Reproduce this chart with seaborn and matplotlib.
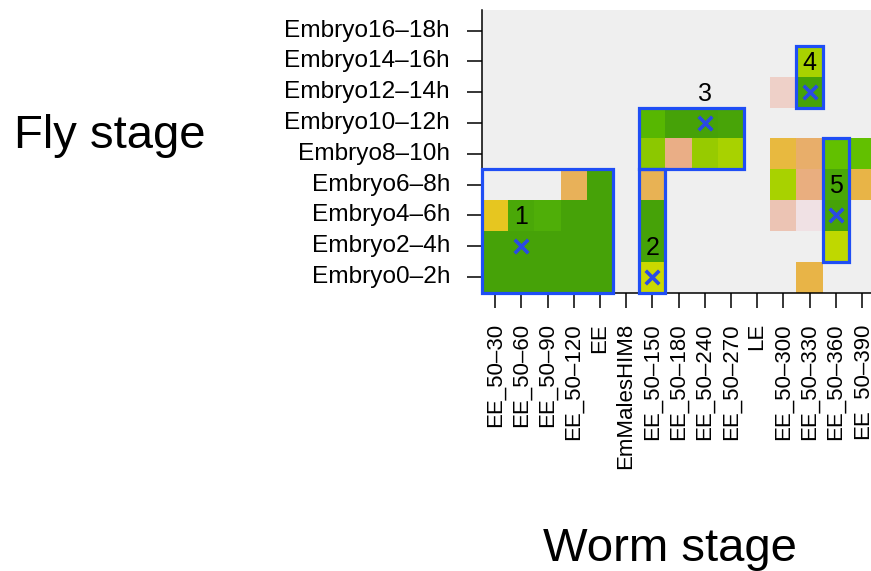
import numpy as np
import pandas as pd
import matplotlib
matplotlib.use("Agg")
import matplotlib.pyplot as plt
from matplotlib.colors import LinearSegmentedColormap
from matplotlib.patches import Rectangle
import seaborn as sns

# ---------------- data ----------------
worm_stages = ["EE_50–30", "EE_50–60", "EE_50–90", "EE_50–120", "EE", "EmMalesHIM8",
               "EE_50–150", "EE_50–180", "EE_50–240", "EE_50–270", "LE",
               "EE_50–300", "EE_50–330", "EE_50–360", "EE_50–390"]
fly_stages = ["Embryo16–18h", "Embryo14–16h", "Embryo12–14h", "Embryo10–12h",
              "Embryo8–10h", "Embryo6–8h", "Embryo4–6h", "Embryo2–4h", "Embryo0–2h"]

N = np.nan
row_16_18 = [N, N, N, N, N, N, N, N, N, N, N, N, N, N, N]
row_14_16 = [N, N, N, N, N, N, N, N, N, N, N, N, 0.78, N, N]
row_12_14 = [N, N, N, N, N, N, N, N, N, N, N, 0.15, 1.0, N, N]
row_10_12 = [N, N, N, N, N, N, 0.93, 1.0, 1.0, 0.99, N, N, N, N, N]
row_8_10 = [N, N, N, N, N, N, 0.85, 0.36, 0.83, 0.78, N, 0.53, 0.44, 0.91, 0.91]
row_6_8 = [N, N, N, 0.47, 1.0, N, 0.48, N, N, N, N, 0.78, 0.38, 0.98, 0.50]
row_4_6 = [0.60, 0.98, 0.96, 1.0, 1.0, N, 1.0, N, N, N, N, 0.24, 0.02, 1.0, N]
row_2_4 = [1.0, 1.0, 1.0, 1.0, 1.0, N, 1.0, N, N, N, N, N, N, 0.74, N]
row_0_2 = [1.0, 1.0, 1.0, 1.0, 1.0, N, 0.70, N, N, N, N, N, 0.50, N, N]

# clusters: (first col, last col, top fly stage, bottom fly stage)
cluster_ids = ["1", "2", "3", "4", "5"]
cluster_cols = [(0, 4), (6, 6), (6, 9), (12, 12), (13, 13)]
cluster_rows = [("Embryo6–8h", "Embryo0–2h"), ("Embryo6–8h", "Embryo0–2h"),
                ("Embryo10–12h", "Embryo8–10h"), ("Embryo14–16h", "Embryo12–14h"),
                ("Embryo8–10h", "Embryo2–4h")]
# where cluster numbers are written
label_cells = [("EE_50–60", "Embryo4–6h"), ("EE_50–150", "Embryo2–4h"),
               ("EE_50–240", "Embryo12–14h"), ("EE_50–330", "Embryo14–16h"),
               ("EE_50–360", "Embryo6–8h")]
# best-matching cell of each cluster (x marks)
best_cells = [("EE_50–60", "Embryo2–4h"), ("EE_50–150", "Embryo0–2h"),
              ("EE_50–240", "Embryo10–12h"), ("EE_50–330", "Embryo12–14h"),
              ("EE_50–360", "Embryo4–6h")]

df = pd.DataFrame([row_16_18, row_14_16, row_12_14, row_10_12, row_8_10,
                   row_6_8, row_4_6, row_2_4, row_0_2],
                  index=fly_stages, columns=worm_stages)

# ---------------- style ----------------
sns.set_theme(style="white")
plt.rcParams["font.family"] = ["Liberation Sans", "DejaVu Sans"]
plt.rcParams["text.color"] = "black"

cmap = LinearSegmentedColormap.from_list("fw", [
    (0.00, "#f0e4e8"), (0.15, "#eed0c8"), (0.25, "#ecc2b2"), (0.36, "#eaae86"),
    (0.44, "#e8ae6a"), (0.50, "#e8b448"), (0.55, "#e8bc38"), (0.60, "#e6c620"),
    (0.70, "#ccd800"), (0.75, "#bcd800"), (0.78, "#a8d200"), (0.84, "#94ca00"),
    (0.91, "#62c000"), (0.93, "#58b800"), (0.96, "#4fae08"), (1.00, "#46a208")])

W, H = 871, 571
fig = plt.figure(figsize=(W / 100, H / 100), dpi=100)
ax = fig.add_axes([482 / W, (H - 292.5) / H, 389 / W, 282.5 / H])
ax.set_facecolor("#efefef")

sns.heatmap(df, ax=ax, cmap=cmap, vmin=0, vmax=1, cbar=False,
            linewidths=0, xticklabels=True, yticklabels=True)

ax.set_xlim(0, 389 / 26.2)
ax.set_ylim(len(fly_stages), -0.17)

ax.set_xticks(np.arange(len(worm_stages)) + 0.5)
ax.set_xticklabels(worm_stages, rotation=90, fontsize=16, color="black")
ax.set_yticks(np.arange(len(fly_stages)) + 0.5)
ax.set_yticklabels(fly_stages, rotation=0, fontsize=17.6, color="black")
ax.tick_params(axis="both", which="major", length=11, width=1.1, color="black",
               direction="out", bottom=True, left=True)
ax.tick_params(axis="x", pad=11)
ax.tick_params(axis="y", pad=12)
for lab in ax.get_xticklabels():
    lab.set_verticalalignment("top")

for side in ["top", "right"]:
    ax.spines[side].set_visible(False)
for side in ["left", "bottom"]:
    ax.spines[side].set_visible(True)
    ax.spines[side].set_color("black")
    ax.spines[side].set_linewidth(1.1)

ax.set_xlabel("")
ax.set_ylabel("")

col_pos = {c: i for i, c in enumerate(worm_stages)}
row_pos = {r: i for i, r in enumerate(fly_stages)}
blue = "#1f4ef5"

for (c0, c1), (rt, rb) in zip(cluster_cols, cluster_rows):
    y0 = row_pos[rt]
    y1 = row_pos[rb] + 1
    ax.add_patch(Rectangle((c0, y0), c1 + 1 - c0, y1 - y0, fill=False,
                           edgecolor=blue, linewidth=2.3, clip_on=False, zorder=5))

for cid, (c, r) in zip(cluster_ids, label_cells):
    ax.text(col_pos[c] + 0.5, row_pos[r] + 0.55, cid, ha="center", va="center",
            fontsize=18, color="black", zorder=6)

bx = [col_pos[c] + 0.5 for c, r in best_cells]
by = [row_pos[r] + 0.5 for c, r in best_cells]
ax.scatter(bx, by, marker="x", s=95, color="#2a4ae6", linewidths=2.6, zorder=7)

fig.text(110 / W, 1 - 136 / H, "Fly stage", ha="center", va="center",
         fontsize=34, color="black")
fig.text(670 / W, 1 - 549 / H, "Worm stage", ha="center", va="center",
         fontsize=34, color="black")

fig.savefig("out.png", dpi=100, facecolor="white")
